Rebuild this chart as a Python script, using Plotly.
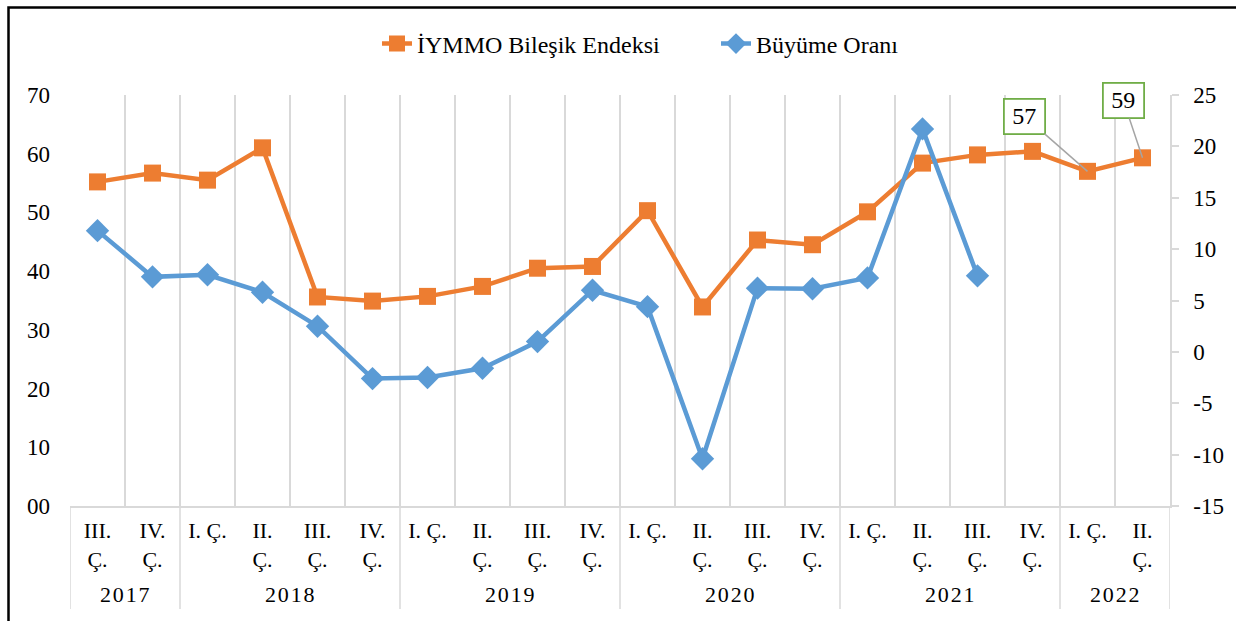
import plotly.graph_objects as go

# ---- data ----
years = ["2017", "2017",
         "2018", "2018", "2018", "2018",
         "2019", "2019", "2019", "2019",
         "2020", "2020", "2020", "2020",
         "2021", "2021", "2021", "2021",
         "2022", "2022"]
quarters = ["III.<br>Ç.", "IV.<br>Ç.",
            "I. Ç.", "II.<br>Ç.", "III.<br>Ç.", "IV.<br>Ç.",
            "I. Ç.", "II.<br>Ç.", "III.<br>Ç.", "IV.<br>Ç.",
            "I. Ç.", "II.<br>Ç.", "III.<br>Ç.", "IV.<br>Ç.",
            "I. Ç.", "II.<br>Ç.", "III.<br>Ç.", "IV.<br>Ç.",
            "I. Ç.", "II.<br>Ç."]
iymmo_index = [55.2, 56.7, 55.5, 61.0, 35.6, 34.9, 35.7, 37.4, 40.5, 40.8,
               50.3, 33.9, 45.3, 44.5, 50.1, 58.4, 59.8, 60.4, 57.0, 59.3]
growth_rate = [11.8, 7.3, 7.5, 5.8, 2.5, -2.6, -2.5, -1.6, 1.0, 6.0,
               4.4, -10.4, 6.2, 6.15, 7.2, 21.7, 7.4, None, None, None]
left_ticks = [0, 10, 20, 30, 40, 50, 60, 70]
left_ticktext = ["00", "10", "20", "30", "40", "50", "60", "70"]
right_ticks = [-15, -10, -5, 0, 5, 10, 15, 20, 25]
right_ticktext = ["-15", "-10", "-5", "0", "5", "10", "15", "20", "25"]
labelled_points = [18, 19]

FONT = "Liberation Serif, Times New Roman, serif"
ORANGE = "#ED7D31"
BLUE = "#5B9BD5"
GRID = "#d9d9d9"

# pixel geometry of the plot area (figure 1236 x 621)
L, R, T, B = 70, 1170, 95, 506


def py_to_paper(py):
    return (B - py) / (B - T)


def px_to_paper(px):
    return (px - L) / (R - L)


def spaced(s):
    return "\u200a".join(s)


idx = list(range(len(quarters)))

fig = go.Figure()
fig.add_trace(go.Scatter(
    x=idx, y=iymmo_index, name="İYMMO Bileşik Endeksi",
    mode="lines+markers",
    line=dict(color=ORANGE, width=4.5),
    marker=dict(symbol="square", size=17, color=ORANGE),
    yaxis="y",
))
fig.add_trace(go.Scatter(
    x=idx, y=growth_rate, name="Büyüme Oranı",
    mode="lines+markers",
    line=dict(color=BLUE, width=4.5),
    marker=dict(symbol="diamond", size=18, color=BLUE),
    yaxis="y2",
))

# data labels with leader lines
offsets = {18: (-63, -55), 19: (-19, -57)}
for i in labelled_points:
    ax_off, ay_off = offsets[i]
    fig.add_annotation(
        x=i, y=iymmo_index[i], xref="x", yref="y",
        text=str(round(iymmo_index[i])),
        showarrow=True, arrowhead=0, arrowwidth=1.5, arrowcolor="#a5a5a5",
        ax=ax_off, ay=ay_off, standoff=0,
        bordercolor="#70AD47", borderwidth=1.8, borderpad=4,
        bgcolor="white", width=31, height=25,
        font=dict(family=FONT, size=24, color="black"),
    )

# year group labels and dividers
groups = []
for i, y in enumerate(years):
    if not groups or groups[-1][0] != y:
        groups.append([y, i, i])
    else:
        groups[-1][2] = i
div_bottom = py_to_paper(609)
for y, i0, i1 in groups:
    fig.add_annotation(
        x=(i0 + i1) / 2, y=py_to_paper(594), xref="x", yref="paper",
        text=spaced(y), showarrow=False, yanchor="middle",
        font=dict(family=FONT, size=22, color="black"),
    )
bounds = [g[1] - 0.5 for g in groups] + [groups[-1][2] + 0.5]
for bx in bounds:
    fig.add_shape(type="line", xref="x", yref="paper",
                  x0=bx, x1=bx, y0=div_bottom, y1=0,
                  line=dict(color=GRID, width=1.5), layer="below")

# outer frame of the chart
fig.add_shape(type="rect", xref="paper", yref="paper",
              x0=px_to_paper(8.5), x1=px_to_paper(1250),
              y0=py_to_paper(640), y1=py_to_paper(7.5),
              line=dict(color="black", width=2.5), layer="above")

fig.update_layout(
    width=1236, height=621,
    margin=dict(l=L, r=1236 - R, t=T, b=621 - B),
    paper_bgcolor="white", plot_bgcolor="white",
    font=dict(family=FONT, size=22, color="black"),
    showlegend=True,
    legend=dict(orientation="h", x=px_to_paper(377), xanchor="left",
                y=py_to_paper(44), yanchor="middle",
                entrywidth=294, entrywidthmode="pixels",
                font=dict(family=FONT, size=24, color="black"),
                bgcolor="rgba(0,0,0,0)"),
    xaxis=dict(range=[-0.5, len(quarters) - 0.5],
               tickvals=idx, ticktext=quarters,
               showgrid=False, zeroline=False,
               showline=True, linecolor=GRID, linewidth=1.5,
               ticks="", ticklabelstandoff=4,
               tickfont=dict(family=FONT, size=22, color="black"),
               minor=dict(tickvals=[i - 0.5 for i in range(len(quarters) + 1)],
                          showgrid=True, gridcolor=GRID, gridwidth=1.5,
                          ticks=""),
               automargin=False),
    yaxis=dict(range=[0, 70], tickvals=left_ticks, ticktext=left_ticktext,
               showgrid=False, zeroline=False, showline=False, ticks="",
               tickfont=dict(family=FONT, size=23, color="black"),
               ticklabelstandoff=19, automargin=False),
    yaxis2=dict(overlaying="y", side="right", range=[-15, 25],
                tickvals=right_ticks, ticktext=right_ticktext,
                showgrid=False, zeroline=False,
                showline=True, linecolor=GRID, linewidth=1.5,
                ticks="outside", ticklen=7, tickcolor=GRID, tickwidth=1.5,
                tickfont=dict(family=FONT, size=23, color="black"),
                ticklabelstandoff=10, automargin=False),
)

fig.write_html("out.html", config={"displayModeBar": False},
               post_script="document.body.style.margin='0px';")
